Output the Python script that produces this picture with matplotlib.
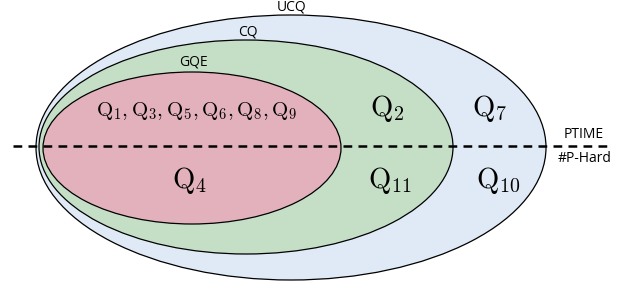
import matplotlib
matplotlib.use('Agg')
import matplotlib.pyplot as plt
from matplotlib.patches import Ellipse

plt.rcParams['mathtext.fontset'] = 'cm'

# Ellipses: name, center x, center y, width, height, fill (pixel coords)
sets = ['UCQ', 'CQ', 'GQE']
centers = [(291, 147.5), (246, 147), (192, 148)]
widths = [510, 414, 298]
heights = [265, 214, 152]
fills = ['#dfeaf6', '#c5dfc7', '#e2b1bc']
label_pos = [(292, 7), (248, 32), (193, 62)]

# query labels
queries = [r'$\mathrm{Q}_1, \mathrm{Q}_3, \mathrm{Q}_5, \mathrm{Q}_6, \mathrm{Q}_8, \mathrm{Q}_9$',
           r'$\mathrm{Q}_2$', r'$\mathrm{Q}_7$',
           r'$\mathrm{Q}_4$', r'$\mathrm{Q}_{11}$', r'$\mathrm{Q}_{10}$']
query_pos = [(197, 111), (387, 109), (490, 109), (189, 180), (390, 180), (498, 180)]
query_size = [15, 20.5, 20.5, 20.5, 20.5, 20.5]

fig = plt.figure(figsize=(6.23, 2.85), dpi=100)
ax = fig.add_axes([0, 0, 1, 1])
ax.set_xlim(0, 623)
ax.set_ylim(285, 0)
ax.axis('off')

for name, c, w, h, fc, lp in zip(sets, centers, widths, heights, fills, label_pos):
    ax.add_patch(Ellipse(c, w, h, facecolor=fc, edgecolor='black', lw=0.9))
    ax.text(lp[0], lp[1], name, ha='center', va='center', fontsize=10, family='Open Sans')

for q, p, s in zip(queries, query_pos, query_size):
    ax.text(p[0], p[1], q, ha='center', va='center', fontsize=s)

# complexity divide
ax.plot([13, 608], [146, 146], color='black', lw=1.8, ls=(0, (3.5, 2.5)))
ax.text(584, 134, 'PTIME', ha='center', va='center', fontsize=10, family='Open Sans')
ax.text(585, 158, '#P-Hard', ha='center', va='center', fontsize=10, family='Open Sans')

fig.savefig('out.png', dpi=100)
